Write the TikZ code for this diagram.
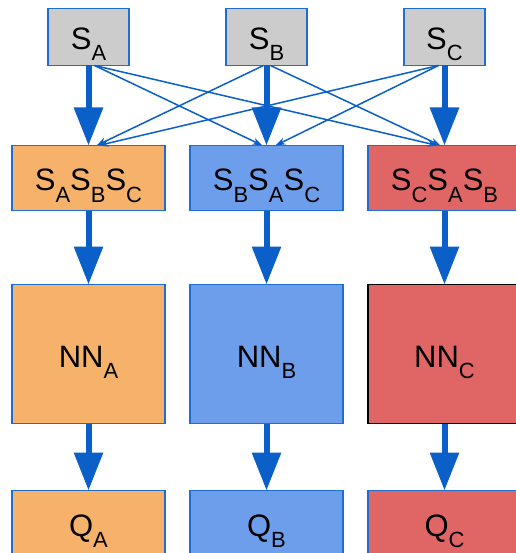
\documentclass[tikz,border=0pt]{standalone}
\usepackage{fontspec}
\setmainfont{Liberation Sans}
\usetikzlibrary{arrows.meta}

\definecolor{arrowblue}{RGB}{10,95,200}
\definecolor{edgeblue}{RGB}{30,110,210}
\definecolor{boxgray}{RGB}{204,204,204}
\definecolor{boxorange}{RGB}{246,178,107}
\definecolor{boxblue}{RGB}{109,158,235}
\definecolor{boxred}{RGB}{224,102,102}

\newcommand{\lo}[1]{\raisebox{-11pt}{\fontsize{22}{22}\selectfont #1}}

\tikzset{
  box/.style={draw=edgeblue, line width=1.5pt, inner sep=0pt, outer sep=0pt,
    font=\fontsize{31}{31}\selectfont, text height=30pt, text depth=4pt},
  srcbox/.style={box, fill=boxgray, minimum width=81pt, minimum height=57pt},
  mixbox/.style={box, minimum width=153pt, minimum height=65pt},
  nnbox/.style={box, minimum width=153pt, minimum height=139pt},
  flow/.style={arrowblue, line width=6pt, -{Triangle[length=38pt,width=28pt]}},
  cross/.style={arrowblue, line width=1.5pt, -{Stealth[length=10pt,width=7pt]}}
}

\begin{document}
\begin{tikzpicture}[x=1pt,y=-1pt]
  \useasboundingbox (0,0) rectangle (515,553);

  % sources
  \node[srcbox] (SA) at (88.5,37) {S\lo{A}};
  \node[srcbox] (SB) at (266.5,37) {S\lo{B}};
  \node[srcbox] (SC) at (444.5,37) {S\lo{C}};

  % reordered inputs
  \node[mixbox, fill=boxorange] (MA) at (88.5,178) {S\lo{A}S\lo{B}S\lo{C}};
  \node[mixbox, fill=boxblue]   (MB) at (266.5,178) {S\lo{B}S\lo{A}S\lo{C}};
  \node[mixbox, fill=boxred]    (MC) at (444.5,178) {S\lo{C}S\lo{A}S\lo{B}};

  % networks
  \node[nnbox, fill=boxorange] (NA) at (88.5,354) {NN\lo{A}};
  \node[nnbox, fill=boxblue]   (NB) at (266.5,354) {NN\lo{B}};
  \node[nnbox, fill=boxred, draw=black] (NC) at (444.5,354) {NN\lo{C}};

  % outputs
  \node[mixbox, fill=boxorange] (QA) at (88.5,523) {Q\lo{A}};
  \node[mixbox, fill=boxblue]   (QB) at (266.5,523) {Q\lo{B}};
  \node[mixbox, fill=boxred]    (QC) at (444.5,523) {Q\lo{C}};

  % cross connections
  \foreach \s/\t/\a/\b in {A/B/6/-4, A/C/6/-7, B/A/-3/8, B/C/4/-4, C/A/-6/10, C/B/-6/9} {
    \draw[cross] ([xshift=\a pt]S\s.south) -- ([xshift=\b pt]M\t.north);
  }

  % main flow
  \foreach \c in {A,B,C} {
    \draw[flow] (S\c.south) -- (M\c.north);
    \draw[flow] (M\c.south) -- (N\c.north);
    \draw[flow] (N\c.south) -- (Q\c.north);
  }
\end{tikzpicture}
\end{document}
